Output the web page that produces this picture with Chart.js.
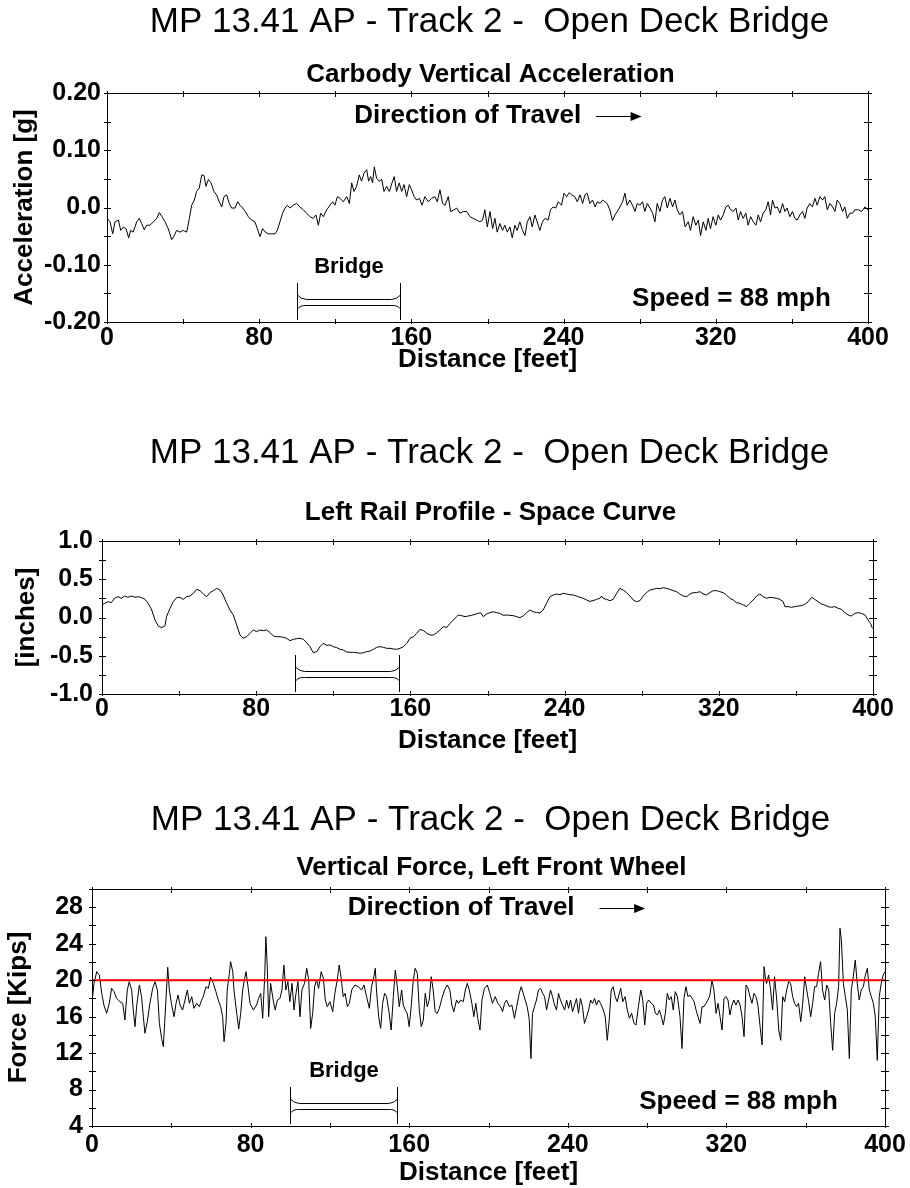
<!DOCTYPE html>
<html>
<head>
<meta charset="utf-8">
<script src="https://cdn.jsdelivr.net/npm/chart.js@4"></script>
<style>
  body { margin: 0; background: #fff; }
  canvas { position: absolute; left: 0; }
</style>
</head>
<body>
<canvas id="accelChart" width="910" height="380" style="top:0"></canvas>
<canvas id="railChart" width="910" height="370" style="top:400px"></canvas>
<canvas id="forceChart" width="910" height="408" style="top:780px"></canvas>
<script>
// ---- data ----
const mainTitle = 'MP 13.41 AP - Track 2 -  Open Deck Bridge';
const distanceLabels = [0, 80, 160, 240, 320, 400];
const bridgeFeet = [100, 154];

const accelLabelValues = [-0.2, -0.1, 0, 0.1, 0.2];
const accelLabelText = ['-0.20', '-0.10', '0.0', '0.10', '0.20'];
const railLabelValues = [-1, -0.5, 0, 0.5, 1];
const railLabelText = ['-1.0', '-0.5', '0.0', '0.5', '1.0'];
const forceLabelValues = [4, 8, 12, 16, 20, 24, 28];

const accelFeet = [
  0.0,1.6,3.0,4.2,6.0,7.2,8.6,10.0,11.4,12.4,
  13.8,15.6,17.0,18.2,19.6,20.8,22.6,24.4,26.1,27.5,
  28.9,30.5,32.2,34.0,35.2,36.6,38.4,40.1,41.9,43.3,
  44.5,45.9,47.1,48.5,49.8,51.0,52.0,53.3,54.7,56.2,
  57.6,59.0,60.3,61.5,62.9,64.3,65.5,67.3,68.7,69.9,
  71.3,72.7,74.3,76.0,77.8,79.0,80.4,81.8,83.2,84.8,
  86.5,88.3,89.5,90.9,92.3,93.6,94.8,96.2,97.9,99.7,
  101.4,103.2,104.9,106.7,108.4,109.8,111.1,112.3,113.7,115.5,
  117.2,118.6,119.8,121.1,122.5,124.2,126.0,127.4,128.6,129.8,
  131.2,132.6,133.8,135.1,136.5,137.5,138.6,139.6,140.5,141.7,
  143.1,144.4,145.6,147.0,148.4,149.8,151.0,152.2,153.6,154.9,
  156.1,157.5,158.9,160.1,161.4,162.8,164.2,165.6,167.1,168.9,
  170.6,172.4,173.6,175.0,176.4,177.7,179.4,180.6,182.4,183.8,
  185.5,187.3,189.0,190.8,192.5,194.3,
  196.0,197.4,198.6,199.9,201.3,202.7,203.9,205.1,206.5,207.9,
  209.1,210.4,211.8,213.0,214.4,215.6,217.0,218.4,219.7,220.9,
  222.3,223.5,224.9,226.1,227.5,228.9,230.2,231.9,233.1,234.5,
  235.9,237.2,238.9,240.2,241.6,243.0,244.2,245.9,247.2,248.6,
  250.0,251.2,252.4,253.8,255.2,256.6,257.7,259.1,260.5,261.7,
  262.9,264.3,265.7,267.0,268.2,269.6,271.0,272.2,273.4,274.8,
  276.2,277.5,278.7,280.1,281.5,282.7,284.0,285.4,286.8,288.0,
  289.2,290.6,292.0,293.2,294.5,295.9,297.3,298.5,299.7,301.1,
  302.5,303.9,305.5,306.7,308.1,309.5,310.8,312.0,313.4,314.8,
  316.0,317.2,318.6,320.0,321.3,322.5,323.9,325.3,326.5,327.8,
  329.2,330.6,331.8,333.0,334.4,335.8,337.0,338.3,339.7,341.1,
  342.3,343.5,344.9,346.3,347.5,348.8,349.8,351.1,352.3,353.7,
  355.1,356.3,357.5,358.9,360.3,361.6,362.8,364.2,365.6,366.8,
  368.0,369.4,370.8,372.1,373.3,374.7,376.1,377.3,378.6,380.0,
  381.4,382.6,383.8,385.2,386.6,387.8,389.1,390.5,391.9,393.1,
  394.9,396.6,398.4,400.0
];
const accelG = [
  -0.019,-0.025,-0.046,-0.025,-0.022,-0.040,-0.034,-0.037,-0.053,-0.040,
  -0.043,-0.025,-0.019,-0.028,-0.039,-0.031,-0.031,-0.025,-0.019,-0.009,
  -0.016,-0.025,-0.037,-0.056,-0.050,-0.040,-0.043,-0.040,-0.043,-0.019,
  0.004,0.013,0.028,0.034,0.057,0.056,0.037,0.049,0.043,0.028,
  0.022,0.010,0.001,0.019,0.022,0.007,-0.001,-0.001,0.010,0.004,
  -0.001,-0.007,-0.016,-0.022,-0.025,-0.037,-0.051,-0.037,-0.043,-0.046,
  -0.046,-0.046,-0.040,-0.025,-0.010,-0.001,0.004,-0.001,0.004,0.007,
  0.001,-0.004,-0.010,-0.016,-0.019,-0.013,-0.031,-0.010,-0.016,-0.004,
  0.004,0.010,0.004,0.019,0.016,0.010,0.019,0.007,0.043,0.028,
  0.037,0.057,0.046,0.060,0.066,0.046,0.054,0.043,0.071,0.051,
  0.046,0.049,0.028,0.037,0.028,0.043,0.054,0.028,0.043,0.028,
  0.040,0.019,0.040,0.031,0.019,0.013,0.016,0.004,0.019,0.010,
  0.016,0.019,0.010,0.031,0.007,0.004,0.019,-0.007,-0.004,-0.001,
  -0.010,-0.007,-0.007,-0.016,-0.019,-0.022,
  -0.025,-0.022,-0.004,-0.034,-0.007,-0.037,-0.019,-0.043,-0.028,-0.040,
  -0.031,-0.043,-0.034,-0.053,-0.031,-0.040,-0.025,-0.040,-0.049,-0.025,
  -0.016,-0.034,-0.013,-0.025,-0.040,-0.025,-0.019,-0.022,-0.004,0.001,
  -0.001,0.010,0.004,0.025,0.019,0.026,0.022,0.019,0.010,0.022,
  0.007,0.022,0.025,0.007,0.013,0.001,0.010,0.007,0.013,0.010,
  0.007,-0.004,-0.023,-0.013,-0.007,0.001,0.010,0.025,0.004,0.013,
  0.004,-0.007,0.007,0.004,0.010,-0.007,0.007,-0.001,-0.010,-0.025,
  0.007,-0.007,0.013,0.019,-0.001,0.016,0.001,0.013,-0.004,-0.013,
  -0.007,-0.034,-0.025,-0.040,-0.016,-0.031,-0.022,-0.049,-0.025,-0.040,
  -0.019,-0.037,-0.016,-0.031,-0.013,-0.022,-0.013,0.001,0.004,-0.004,
  -0.007,-0.001,-0.022,-0.007,-0.019,-0.010,-0.031,-0.016,-0.025,-0.031,
  -0.013,-0.025,-0.010,-0.004,0.010,-0.013,0.013,-0.001,0.001,-0.010,
  0.007,-0.007,-0.001,-0.016,-0.007,-0.019,-0.022,-0.013,-0.007,-0.019,
  -0.001,0.007,0.001,0.016,0.004,0.019,0.013,0.019,-0.004,0.007,
  0.001,-0.007,0.013,0.007,-0.007,0.001,-0.019,-0.010,-0.010,-0.004,
  -0.004,-0.007,0.001,-0.004
];

const railFeet = [
  0,1.4,3.1,4.8,6.5,8.3,10.0,11.8,13.4,15.4,
  17.1,18.8,20.6,22.3,24.0,25.8,27.5,29.2,31.0,32.7,
  33.5,35.3,37.0,38.7,40.4,42.2,43.9,45.6,47.4,49.1,
  50.8,52.6,54.3,56.0,57.8,59.5,61.2,62.9,64.7,66.4,
  68.1,69.9,71.6,73.3,75.0,76.8,78.5,80.2,82.0,83.7,
  85.4,87.2,88.9,90.6,92.4,94.1,95.8,97.5,99.3,101.0,
  102.7,104.5,106.2,107.9,109.6,111.4,113.1,114.8,116.6,118.3,
  120.0,121.8,123.5,125.2,127.0,128.7,130.4,132.1,133.9,135.6,
  137.3,139.1,140.8,142.5,144.3,146.0,147.7,149.4,151.2,152.9,
  154.6,156.4,158.1,159.8,161.6,163.3,165.0,166.8,168.5,170.2,
  171.9,173.7,175.4,177.1,178.9,180.6,182.3,
  184.0,184.8,186.6,188.3,190.0,191.7,193.5,195.2,196.4,197.8,
  199.5,201.2,203.0,204.7,206.4,208.2,209.9,211.6,213.4,215.1,
  216.8,218.5,220.3,222.0,223.7,225.5,227.2,228.9,230.6,232.4,
  234.1,235.8,237.6,239.3,241.0,242.7,244.5,246.2,247.9,249.7,
  251.4,253.1,254.8,256.6,258.3,259.2,260.0,261.8,263.5,265.2,
  267.0,268.7,270.4,272.1,273.9,275.6,277.3,279.1,280.8,282.5,
  284.2,286.0,287.7,289.4,291.2,292.9,294.6,296.3,298.1,299.8,
  301.5,303.3,305.0,306.7,308.4,310.2,311.9,313.6,315.4,317.1,
  318.8,320.5,322.3,324.0,325.7,327.5,329.2,330.9,332.7,334.4,
  336.1,337.8,339.6,341.3,343.0,344.8,346.5,348.2,349.9,351.7,
  353.4,354.3,356.0,357.7,359.5,361.2,362.9,364.6,366.4,368.1,
  369.8,371.5,373.3,375.0,376.7,378.5,380.2,381.9,383.7,385.4,
  387.1,388.8,390.6,392.3,394.0,395.8,397.5,398.7,399.7
];
const railInches = [
  0.163,0.185,0.207,0.194,0.251,0.272,0.251,0.281,0.264,0.281,
  0.264,0.272,0.259,0.237,0.185,0.098,-0.033,-0.111,-0.133,-0.107,
  0.011,0.120,0.207,0.259,0.264,0.237,0.272,0.281,0.316,0.368,
  0.351,0.307,0.272,0.325,0.351,0.381,0.359,0.294,0.185,0.098,
  0.033,-0.098,-0.229,-0.272,-0.251,-0.207,-0.163,-0.185,-0.163,-0.172,
  -0.163,-0.198,-0.242,-0.251,-0.251,-0.259,-0.272,-0.303,-0.285,-0.277,
  -0.272,-0.285,-0.329,-0.381,-0.460,-0.447,-0.381,-0.338,-0.364,-0.359,
  -0.381,-0.394,-0.416,-0.425,-0.451,-0.455,-0.455,-0.460,-0.468,-0.460,
  -0.447,-0.438,-0.416,-0.390,-0.381,-0.390,-0.403,-0.403,-0.412,-0.416,
  -0.403,-0.381,-0.338,-0.272,-0.251,-0.207,-0.155,-0.172,-0.207,-0.229,
  -0.229,-0.198,-0.163,-0.120,-0.129,-0.076,-0.033,
  0.011,0.033,0.024,0.011,0.020,0.028,0.041,0.054,0.063,0.011,
  0.046,0.063,0.076,0.063,0.054,0.028,0.033,0.028,0.024,0.011,
  -0.002,0.020,0.063,0.098,0.076,0.063,0.063,0.098,0.185,0.272,
  0.294,0.307,0.298,0.316,0.307,0.298,0.294,0.281,0.264,0.251,
  0.229,0.211,0.220,0.237,0.251,0.281,0.251,0.237,0.220,0.237,
  0.316,0.381,0.359,0.325,0.281,0.229,0.207,0.220,0.281,0.325,
  0.359,0.368,0.381,0.377,0.390,0.381,0.368,0.351,0.338,0.307,
  0.281,0.272,0.307,0.325,0.325,0.338,0.307,0.294,0.325,0.351,
  0.351,0.338,0.325,0.294,0.251,0.229,0.194,0.185,0.163,0.142,
  0.185,0.229,0.281,0.307,0.272,0.251,0.264,0.259,0.251,0.237,
  0.207,0.142,0.142,0.133,0.142,0.150,0.155,0.172,0.207,0.264,
  0.237,0.207,0.176,0.163,0.142,0.133,0.142,0.120,0.107,0.063,
  0.033,0.020,0.054,0.063,0.054,0.033,-0.033,-0.076,-0.142
];

const forceFeet = [
  0.0,1.0,2.4,3.7,4.9,6.0,7.4,8.7,9.9,11.1,
  12.4,14.1,15.5,16.6,17.8,18.8,20.0,20.8,21.7,22.5,
  23.9,25.0,25.9,26.7,27.9,29.2,30.6,31.8,33.0,34.0,
  35.1,36.0,37.3,38.2,39.0,40.2,41.4,42.4,43.4,44.4,
  45.7,46.9,48.1,49.1,50.3,51.4,52.8,54.1,55.3,56.1,
  57.5,58.7,59.8,61.2,62.5,63.7,64.9,65.9,66.6,67.6,
  68.2,69.3,69.9,71.0,71.6,73.0,74.0,75.0,76.0,77.0,
  77.7,78.7,79.7,81.4,83.0,84.0,85.1,86.1,87.1,87.7,
  88.4,89.1,90.1,91.4,92.4,93.5,94.8,95.8,96.8,97.8,
  98.8,99.8,100.9,101.9,102.9,103.9,104.9,105.9,107.2,108.3,
  109.3,110.3,111.3,112.3,113.3,114.3,115.6,116.7,117.7,118.7,
  120.0,121.4,122.5,123.7,124.7,125.7,126.7,127.7,128.8,129.8,
  131.0,132.6,134.3,
  136.0,137.2,138.5,139.9,141.0,142.2,142.9,143.5,144.6,145.6,
  146.6,147.6,148.6,149.9,150.9,152.0,153.0,154.0,155.0,156.2,
  157.0,158.0,159.0,160.0,161.0,162.0,163.0,164.1,165.1,166.1,
  167.1,168.1,169.1,170.1,171.1,172.1,173.1,174.1,175.2,176.5,
  177.8,179.2,180.5,181.5,182.5,183.9,184.9,185.9,187.3,188.3,
  189.3,190.3,191.6,192.6,193.6,194.6,195.7,196.7,198.0,199.4,
  200.7,202.0,203.4,204.7,206.1,207.1,208.1,209.1,210.5,211.8,
  213.1,214.2,215.5,216.5,217.5,218.5,219.5,220.5,221.4,222.2,
  223.2,224.2,225.2,226.3,227.3,228.3,229.3,230.3,231.3,232.3,
  233.3,234.3,235.3,236.3,237.3,238.4,239.4,240.4,241.4,242.4,
  243.4,244.4,245.4,246.4,247.4,248.4,249.5,250.5,251.5,252.5,
  253.5,254.5,255.5,256.5,257.9,258.9,259.9,260.9,261.9,262.9,
  263.9,264.9,
  266.7,267.7,268.9,270.0,271.1,272.2,273.4,274.4,275.6,276.8,
  277.8,278.8,279.8,280.8,282.1,283.2,284.2,285.2,286.2,287.2,
  288.2,289.2,290.2,291.2,292.2,293.2,294.2,295.3,296.6,297.6,
  298.6,299.6,300.6,301.6,302.7,303.7,304.7,305.7,306.7,307.7,
  308.7,309.7,310.7,311.7,312.7,313.7,314.8,315.8,316.8,317.8,
  318.8,319.8,320.8,321.8,322.8,323.8,324.8,325.9,326.9,327.9,
  328.9,329.9,330.9,331.9,332.9,333.9,334.9,335.9,337.0,338.0,
  339.0,339.6,340.3,341.3,342.3,343.3,344.3,345.4,346.4,347.4,
  348.4,349.4,350.4,351.4,352.4,353.4,354.4,355.4,356.4,357.5,
  358.5,359.5,360.5,361.5,362.5,363.5,364.5,365.5,366.5,367.5,
  368.5,369.6,370.6,371.6,372.6,373.6,374.6,375.6,376.6,377.3,
  378.0,379.0,380.0,381.0,382.0,383.0,384.0,385.0,386.0,387.0,
  388.0,389.1,390.1,391.1,392.1,393.1,394.1,395.1,396.1,397.1,
  398.1,399.1,400.0
];
const forceKips = [
  17.5,19.65,20.93,20.56,18.55,17.27,16.36,17.46,19.10,18.74,
  18.00,17.64,17.46,15.63,18.92,19.83,18.92,16.72,14.90,17.09,
  19.47,18.19,15.99,14.17,15.45,17.46,19.10,19.83,18.92,15.26,
  13.62,12.7,17.82,21.41,18.92,17.27,15.99,17.46,18.37,17.27,
  16.72,17.82,18.92,17.46,18.19,16.91,17.46,17.09,17.82,18.19,
  19.28,19.10,20.31,19.65,18.74,17.82,17.09,15.99,13.25,15.26,
  18.92,20.75,22.03,20.93,18.92,16.36,14.64,16.36,18.92,20.20,
  20.93,19.28,17.46,16.72,17.27,18.00,18.55,15.81,20.38,24.77,
  21.48,15.99,19.65,17.82,16.72,17.82,18.00,18.92,21.66,18.92,
  19.83,17.64,19.65,16.72,18.55,19.83,15.99,18.92,19.65,21.30,
  20.02,14.71,16.36,19.28,20.02,19.10,20.93,20.20,17.82,17.09,
  17.64,16.54,18.55,20.02,21.66,20.20,18.19,18.55,17.09,17.46,
  18.92,19.47,19.28,
  18.92,19.47,18.19,16.91,19.28,20.38,21.30,18.92,15.99,14.71,
  17.46,18.55,18.19,16.36,14.53,18.19,21.11,19.28,17.09,18.92,
  17.27,16.72,16.36,14.90,17.09,19.83,21.30,20.75,16.72,14.90,
  15.63,18.55,17.09,17.82,20.38,18.92,16.54,16.36,16.91,18.00,
  18.92,19.47,18.92,17.27,16.54,17.82,17.46,17.82,17.64,18.92,
  19.65,18.92,17.46,15.99,17.46,15.81,14.53,17.82,19.10,19.47,
  18.55,17.46,18.19,17.46,17.09,16.54,17.46,17.82,17.09,17.27,
  15.81,17.09,18.55,19.28,18.55,17.82,17.09,15.81,11.4,16.36,
  17.09,17.82,18.92,19.10,18.55,18.19,16.72,17.82,18.92,18.19,
  17.27,16.72,18.55,17.82,17.27,16.72,17.82,16.91,17.82,16.54,
  17.27,18.00,16.36,18.00,17.09,15.26,15.99,16.72,17.82,17.46,
  18.00,17.27,17.82,17.46,16.72,15.99,13.4,15.63,18.92,19.28,
  18.19,17.64,
  19.10,17.64,18.19,16.72,15.81,16.36,15.26,15.08,17.09,18.92,
  17.82,15.08,17.46,17.82,17.46,17.27,16.36,16.18,16.72,15.99,
  15.08,16.36,18.55,17.82,18.19,16.72,18.74,18.19,15.99,12.5,
  18.00,19.28,18.19,18.37,18.00,17.64,16.72,15.99,15.26,17.09,
  17.09,17.46,17.82,18.37,20.02,18.92,16.36,17.46,15.99,14.53,
  18.00,18.19,17.82,16.18,17.27,17.82,17.27,17.82,17.27,15.99,
  13.8,19.47,19.10,18.19,17.46,18.55,18.19,17.27,14.90,12.9,
  21.48,20.38,19.65,20.56,18.92,16.72,20.38,17.82,14.53,13.4,
  18.19,17.64,18.92,19.83,19.65,18.19,17.46,17.09,17.46,15.45,
  17.46,20.38,18.92,17.64,15.99,17.46,19.28,19.28,20.75,22.03,
  18.92,17.82,19.47,18.92,15.26,12.3,16.36,17.46,19.28,25.7,
  24.40,19.65,18.19,16.72,11.4,18.92,20.38,22.2,19.65,17.82,
  18.92,19.28,20.56,21.3,18.92,18.19,17.46,15.99,11.2,18.19,
  19.65,20.56,20.93
];
const forceLimitFeet = [0, 400];
const forceLimitKips = [20, 20];

// ---- styling ----
const FONT = "'Liberation Sans', Arial, Helvetica, sans-serif";
const tickFont = { family: FONT, size: 25, weight: 'bold' };
const axisFont = { family: FONT, size: 26, weight: 'bold' };

const points = (xs, ys) => xs.map((x, i) => ({ x, y: ys[i] }));
const near = (arr, v) => arr.findIndex(a => Math.abs(a - v) < 1e-9);

// frame, inner ticks, titles and the little bridge / travel notes
const decor = {
  id: 'decor',
  afterDatasetsDraw(chart, args, o) {
    const { ctx, chartArea: a, scales: { x, y } } = chart;
    ctx.save();
    ctx.strokeStyle = '#000';
    ctx.fillStyle = '#000';
    ctx.lineWidth = 1;
    ctx.strokeRect(a.left + 0.5, a.top + 0.5, a.right - a.left, a.bottom - a.top);

    ctx.beginPath();
    x.ticks.forEach(t => {
      const px = Math.round(x.getPixelForValue(t.value)) + 0.5;
      ctx.moveTo(px, a.bottom - 3); ctx.lineTo(px, a.bottom + 2);
      ctx.moveTo(px, a.top - 2); ctx.lineTo(px, a.top + 4);
    });
    y.ticks.forEach(t => {
      const py = Math.round(y.getPixelForValue(t.value)) + 0.5;
      ctx.moveTo(a.left - 3, py); ctx.lineTo(a.left + 4, py);
      ctx.moveTo(a.right - 4, py); ctx.lineTo(a.right + 4, py);
    });
    ctx.stroke();

    const cx = (a.left + a.right) / 2 + 2;
    ctx.textAlign = 'center';
    ctx.textBaseline = 'middle';
    ctx.font = `35px ${FONT}`;
    ctx.fillText(mainTitle, cx, o.titleY);
    ctx.font = `bold 26px ${FONT}`;
    ctx.fillText(o.subtitle, cx + 1, o.subtitleY);

    // bridge marker
    const bx1 = Math.round(x.getPixelForValue(bridgeFeet[0])) + 0.5;
    const bx2 = Math.round(x.getPixelForValue(bridgeFeet[1])) + 0.5;
    const b = a.bottom;
    ctx.beginPath();
    ctx.moveTo(bx1, b - 39); ctx.lineTo(bx1, b - 2);
    ctx.moveTo(bx2, b - 39); ctx.lineTo(bx2, b - 2);
    [[-23, -27], [-17, -13]].forEach(([ly, ey]) => {
      ctx.moveTo(bx1, b + ey);
      ctx.quadraticCurveTo(bx1 + 3, b + ly, bx1 + 9, b + ly + 0.5);
      ctx.lineTo(bx2 - 9, b + ly + 0.5);
      ctx.quadraticCurveTo(bx2 - 3, b + ly, bx2, b + ey);
    });
    ctx.stroke();
    if (o.bridgeLabel) {
      ctx.font = `bold 22px ${FONT}`;
      ctx.fillText('Bridge', (bx1 + bx2) / 2, b - 55);
    }

    if (o.travel) {
      const ty = y.getPixelForValue(o.travel.y);
      ctx.textAlign = 'left';
      ctx.font = `bold 26px ${FONT}`;
      ctx.fillText('Direction of Travel', x.getPixelForValue(o.travel.x), ty);
      const ax1 = x.getPixelForValue(o.travel.arrow[0]);
      const ax2 = x.getPixelForValue(o.travel.arrow[1]);
      const ay = Math.round(ty) + 0.5;
      ctx.beginPath();
      ctx.moveTo(ax1, ay); ctx.lineTo(ax2 - 8, ay);
      ctx.stroke();
      ctx.beginPath();
      ctx.moveTo(ax2, ay); ctx.lineTo(ax2 - 11, ay - 4.5); ctx.lineTo(ax2 - 11, ay + 4.5);
      ctx.closePath();
      ctx.fill();
    }
    if (o.speed) {
      ctx.textAlign = 'left';
      ctx.font = `bold 26px ${FONT}`;
      ctx.fillText('Speed = 88 mph', x.getPixelForValue(o.speed.x), y.getPixelForValue(o.speed.y));
    }
    ctx.restore();
  }
};

function makeScales(o) {
  return {
    x: {
      type: 'linear', min: 0, max: 400,
      afterFit: s => { s.height = o.xHeight; },
      grid: { display: false, drawTicks: false }, border: { display: false },
      ticks: {
        stepSize: 40, autoSkip: false, maxRotation: 0, padding: o.xPad, color: '#000', font: tickFont,
        callback: v => distanceLabels.includes(v) ? String(v) : ''
      },
      title: { display: true, text: 'Distance [feet]', color: '#000', font: axisFont,
               padding: { top: 0, bottom: o.xTitlePad } }
    },
    y: {
      min: o.yMin, max: o.yMax,
      afterFit: s => { s.width = o.yWidth; },
      grid: { display: false, drawTicks: false }, border: { display: false },
      ticks: { stepSize: o.yStep, autoSkip: false, padding: o.yPad, color: '#000', font: tickFont,
               callback: o.yLabel },
      title: { display: true, text: o.yTitle, color: '#000', font: axisFont,
               padding: { top: o.yTitlePad, bottom: 0 } }
    }
  };
}

function lineSet(data, color, width) {
  return { data, borderColor: color, borderWidth: width, pointRadius: 0, tension: 0, fill: false };
}

Chart.defaults.animation = false;

new Chart(document.getElementById('accelChart'), {
  type: 'line',
  data: { datasets: [lineSet(points(accelFeet, accelG), '#000', 1)] },
  options: {
    responsive: false, devicePixelRatio: 1,
    layout: { padding: { top: 93, right: 42, left: 0, bottom: 0 } },
    plugins: {
      legend: { display: false }, tooltip: { enabled: false },
      decor: { titleY: 22, subtitle: 'Carbody Vertical Acceleration', subtitleY: 75, bridgeLabel: true,
               travel: { x: 130, y: 0.16, arrow: [257, 281] }, speed: { x: 276, y: -0.16 } }
    },
    scales: makeScales({
      xHeight: 58, xPad: 1, xTitlePad: 5, yWidth: 107, yPad: 6, yTitlePad: 9,
      yMin: -0.2, yMax: 0.2, yStep: 0.05, yTitle: 'Acceleration [g]',
      yLabel: v => { const i = near(accelLabelValues, v); return i < 0 ? '' : accelLabelText[i]; }
    })
  },
  plugins: [decor]
});

new Chart(document.getElementById('railChart'), {
  type: 'line',
  data: { datasets: [lineSet(points(railFeet, railInches), '#000', 1)] },
  options: {
    responsive: false, devicePixelRatio: 1,
    layout: { padding: { top: 141, right: 37, left: 0, bottom: 0 } },
    plugins: {
      legend: { display: false }, tooltip: { enabled: false },
      decor: { titleY: 53, subtitle: 'Left Rail Profile - Space Curve', subtitleY: 113, bridgeLabel: false }
    },
    scales: makeScales({
      xHeight: 76, xPad: 0, xTitlePad: 14, yWidth: 102, yPad: 9, yTitlePad: 11,
      yMin: -1, yMax: 1, yStep: 0.25, yTitle: '[inches]',
      yLabel: v => { const i = near(railLabelValues, v); return i < 0 ? '' : railLabelText[i]; }
    })
  },
  plugins: [decor]
});

new Chart(document.getElementById('forceChart'), {
  type: 'line',
  data: { datasets: [
    lineSet(points(forceLimitFeet, forceLimitKips), '#ff0000', 2),
    lineSet(points(forceFeet, forceKips), '#000', 1)
  ] },
  options: {
    responsive: false, devicePixelRatio: 1,
    layout: { padding: { top: 109, right: 25, left: 0, bottom: 0 } },
    plugins: {
      legend: { display: false }, tooltip: { enabled: false },
      decor: { titleY: 40, subtitle: 'Vertical Force, Left Front Wheel', subtitleY: 88, bridgeLabel: true,
               travel: { x: 129, y: 27.9, arrow: [256, 279] }, speed: { x: 276, y: 6.6 } }
    },
    scales: makeScales({
      xHeight: 62, xPad: 4, xTitlePad: 0, yWidth: 92, yPad: 9, yTitlePad: 3,
      yMin: 4, yMax: 30, yStep: 2, yTitle: 'Force [Kips]',
      yLabel: v => near(forceLabelValues, v) < 0 ? '' : String(v)
    })
  },
  plugins: [decor]
});
</script>
</body>
</html>
